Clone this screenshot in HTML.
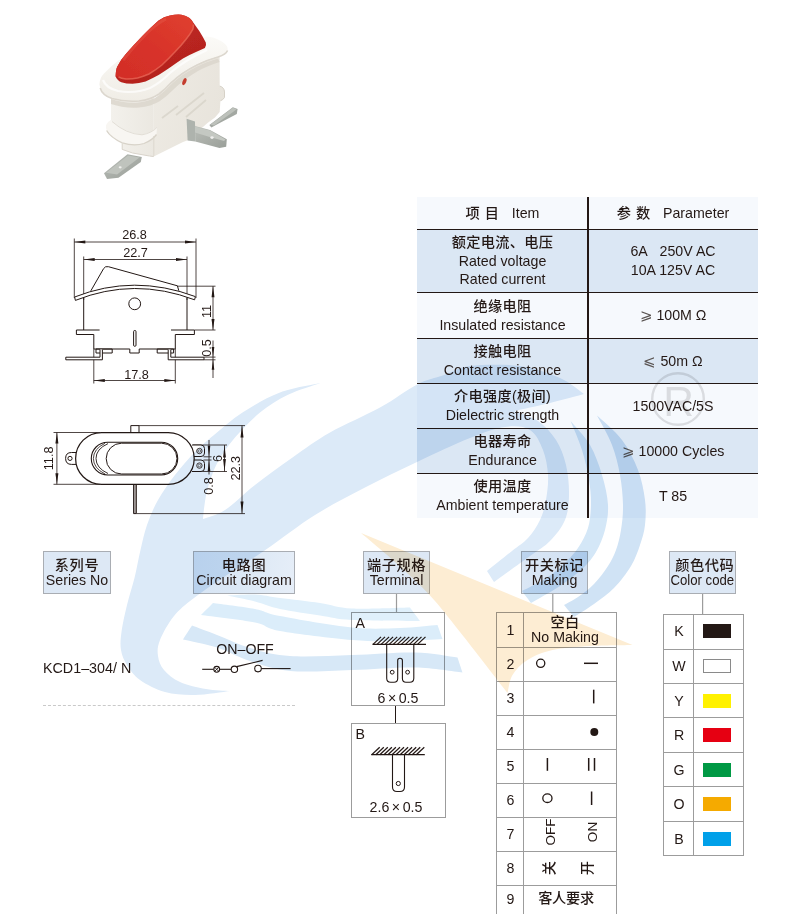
<!DOCTYPE html>
<html lang="zh">
<head>
<meta charset="utf-8">
<title>KCD1-304/N Rocker Switch</title>
<style>
html,body{margin:0;padding:0;background:#fff;}
body{width:800px;height:914px;position:relative;overflow:hidden;
  font-family:"Liberation Sans","Noto Sans CJK SC",sans-serif;color:#231815;font-size:14.2px;}
.abs{position:absolute;}
svg{position:absolute;left:0;top:0;}
svg text{font-family:"Liberation Sans","Noto Sans CJK SC",sans-serif;fill:#231815;}

/* spec table */
#spec{position:absolute;left:417px;top:197px;width:341px;height:321px;}
#spec .row{position:absolute;left:0;width:341px;border-top:1.3px solid #231815;box-sizing:border-box;}
#spec .row.first{border-top:none;}
#spec .c1,#spec .c2{position:absolute;top:0;height:100%;display:flex;flex-direction:column;justify-content:center;align-items:center;text-align:center;line-height:18.6px;white-space:nowrap;}
#spec .c1{left:0;width:171px;}
#spec .c2{left:171px;width:170px;}
#spec .dark{background:#dbe7f4;}
#spec .light{background:#f6f9fd;}
#spec .vline{position:absolute;left:170.2px;top:0;width:1.8px;height:321px;background:#231815;}
.cj{letter-spacing:0.3px;font-weight:500;}
.ge{color:#5a5452;font-size:15px;}

/* label boxes */
.lbl{position:absolute;top:551px;height:43px;box-sizing:border-box;border:1px solid #a9adb3;background:#dde8f5;
  text-align:center;line-height:15.2px;padding-top:5.5px;white-space:nowrap;}
.lbl .cj{letter-spacing:0.6px;}

/* small tables */
.grid{position:absolute;box-sizing:border-box;border:1px solid #9c9c9c;}
.grid .r{position:absolute;left:0;width:100%;box-sizing:border-box;border-top:1px solid #9c9c9c;}
.grid .r.first{border-top:none;}
.grid .n{position:absolute;left:0;top:0;height:100%;display:flex;align-items:center;justify-content:center;box-sizing:border-box;}
.grid .vl{position:absolute;top:0;width:1px;height:100%;background:#9c9c9c;}
.grid .v{position:absolute;top:0;height:100%;display:flex;flex-direction:column;align-items:center;justify-content:center;white-space:nowrap;line-height:15.4px;}
.sw{width:28px;height:14px;box-sizing:border-box;}
.rot{position:absolute;transform:translate(-50%,-50%) rotate(-90deg);white-space:nowrap;}
.tbox{position:absolute;box-sizing:border-box;border:1px solid #9c9c9c;}
</style>
</head>
<body>

<!-- GRAPHICS -->
<svg id="gfx" width="800" height="914" viewBox="0 0 800 914">
<!-- product photo (vector approximation) -->
<defs>
  <linearGradient id="gRedTop" x1="0" y1="1" x2="1" y2="0">
    <stop offset="0" stop-color="#d22d27"/><stop offset="0.5" stop-color="#d8332a"/><stop offset="1" stop-color="#e0402f"/>
  </linearGradient>
  <linearGradient id="gRedSide" x1="0" y1="0" x2="0.6" y2="1">
    <stop offset="0" stop-color="#c32a23"/><stop offset="1" stop-color="#b3221e"/>
  </linearGradient>
  <linearGradient id="gBezel" x1="0" y1="0" x2="0" y2="1">
    <stop offset="0" stop-color="#fbfaf7"/><stop offset="1" stop-color="#f0ede6"/>
  </linearGradient>
  <linearGradient id="gBodyL" x1="0" y1="0" x2="1" y2="0">
    <stop offset="0" stop-color="#f4f2ed"/><stop offset="1" stop-color="#ebe8e1"/>
  </linearGradient>
  <linearGradient id="gBodyR" x1="0" y1="0" x2="1" y2="0.4">
    <stop offset="0" stop-color="#eeebe4"/><stop offset="1" stop-color="#e8e4dc"/>
  </linearGradient>
  <linearGradient id="gMetal" x1="0" y1="0" x2="1" y2="1">
    <stop offset="0" stop-color="#b9bdb7"/><stop offset="1" stop-color="#9a9f99"/>
  </linearGradient>
  <filter id="soft" x="-5%" y="-5%" width="110%" height="110%"><feGaussianBlur stdDeviation="0.6"/></filter>
</defs>
<g filter="url(#soft)">
  <!-- back terminal -->
  <polygon points="209.4,125 232.8,107.2 237.6,109 236.8,114 222.5,121.6 211.3,127.4" fill="#a3a8a2"/>
  <polygon points="210.5,124.6 232.9,107.8 236.6,109.3 233,112 214,125.6" fill="#bdc1bb"/>
  <!-- body right face -->
  <path d="M153.8 100 L170.6 82 L183.8 71 L202.5 61.5 L219.6 55 L219.7 86 Q224.4 87.5 224.5 92 L224.5 97.5 Q223 100 220.4 100.8 L219.7 112 L215 117.5 L207.5 123 L187.8 140.2 L183 142 L153.8 156.6 Z" fill="url(#gBodyR)"/>
  <!-- body left face -->
  <path d="M111 92 L153.8 96 L153.8 156.6 L149.4 156 L132.5 153 L122.2 149.4 L122.2 142.8 L113.8 138 L107.2 132.5 L106.2 125.5 L111 120 Z" fill="url(#gBodyL)"/>
  <!-- shadow under bezel -->
  <path d="M111 99 Q124 103.5 139 102.5 Q151 101 159 95.5 Q165 91 171 84.5 Q182 74 197 66.5 Q207 61.5 218 58.5 L219.6 62 Q207 66 198 71 Q184 79 173 90 Q166 97 160 101 Q151 106.5 139 107.5 Q124 108.5 111 104 Z" fill="#d9d4ca" opacity="0.8"/>
  <!-- flange -->
  <path d="M111 120 Q104.8 123.5 106.2 128.5 Q108 135 122.2 142.8 Q134 146.5 144 143.5 Q152 140.5 156.5 134.5 L157 127 Q152 132.8 142 134.4 Q125 133.5 111 120 Z" fill="#f8f6f2"/>
  <path d="M106.6 130.5 Q110.5 137.5 122.2 142.8 Q134 146.5 144 143.5 Q152 140.5 156.5 134.5" fill="none" stroke="#d8d3c9" stroke-width="1.3"/>
  <path d="M112 121.5 Q126 134 142 134.8 Q152 133 157 127.3" fill="none" stroke="#e2ded6" stroke-width="1"/>
  <path d="M122.2 143.5 L122.2 149.4 L132.5 153 L149.4 156 L153.8 156.6" fill="none" stroke="#d9d4cb" stroke-width="1"/>
  <line x1="153.8" y1="136" x2="153.8" y2="156" stroke="#dcd7ce" stroke-width="1"/>
  <!-- texture on right face -->
  <path d="M162 118 L178 106 M176 115 L204 93 M186 117 L206 100" stroke="#d6d1c7" stroke-width="1.8" fill="none" opacity="0.75"/>
  <path d="M219.7 86 Q224.4 87.5 224.5 92 L224.5 97.5 Q223 100 220.4 100.8" fill="none" stroke="#d6d1c7" stroke-width="1"/>
  <ellipse cx="184.4" cy="81.6" rx="1.8" ry="3.7" transform="rotate(22 184.4 81.6)" fill="#c43c2e"/>
  <!-- bezel -->
  <path d="M99.4 84.4 Q99.6 78 104 73.5 Q111 66 119 60 L206.3 36.4 Q214 36.8 221 41 Q228.4 45.5 227.8 49.5 Q226.8 54 217.5 56.8 Q206 59.5 196 64.5 Q181 72.5 170.6 82.5 Q164 90 158 94 Q150 99.5 138 100.6 Q122 101.2 110.6 97.6 Q100.5 93.5 99.4 84.4 Z" fill="url(#gBezel)"/>
  <path d="M100.2 88 Q102 95 112 98.6 Q124 102 139 101 Q151 99.6 159 94 Q165 89.5 171 82.8 Q182 72.5 197 65 Q207 60 218 57 Q226 54.5 227.6 50.5" fill="none" stroke="#dcd7ce" stroke-width="1.6"/>
  <path d="M103 80 Q106 88 118 91 Q135 94 150 88 Q160 83 170 73 Q185 60 207 50" fill="none" stroke="#fff" stroke-width="2.2" opacity="0.7"/>
  <!-- rocker -->
  <path d="M115.6 76.5 Q115.8 70 117.2 66.8 Q120.5 60 126 53.8 Q134 44.5 142.4 35.9 Q150.5 27.5 158.6 20.4 Q164 16.6 170 15.6 Q176 14.2 181.4 14.7 Q186 15.4 189.5 18 Q192 20 193.6 22.9 Q196.5 27 199.3 31 Q203 37 205.8 42.4 Q206.8 45.5 204.9 48 Q200.5 50 196 52 Q189 55 183 58.6 Q176.5 63 170 67.6 Q164.5 71.5 158.6 74.9 Q152 78.5 145.6 81.4 Q139 83.4 132.6 83.8 Q126 83.8 121.3 82.2 Q117 80.3 115.6 76.5 Z" fill="url(#gRedSide)"/>
  <path d="M115.6 76.5 Q115.8 70 117.2 66.8 Q120.5 60 126 53.8 Q134 44.5 142.4 35.9 Q150.5 27.5 158.6 20.4 Q164 16.6 170 15.6 Q176 14.2 181.4 14.7 Q186 15.4 189.5 18 Q192.6 20.6 193.4 24.5 Q193.6 27 192.8 29.4 Q190 34.5 186.3 39 Q181 45.8 174.9 52 Q168.5 58.8 161.9 65 Q155.5 70.2 148.9 74 Q143 76.6 137.5 78 Q131.5 79.2 126 79 Q121 78.5 118 76.5 Z" fill="url(#gRedTop)"/>
  <path d="M118.5 76.8 Q121 78.5 126 79 Q131.5 79.2 137.5 78 Q143 76.6 148.9 74 Q155.5 70.2 161.9 65 Q168.5 58.8 174.9 52 Q181 45.8 186.3 39 Q190 34.5 192.8 29.4 Q193.6 27 193.4 24.5" fill="none" stroke="#ea6a58" stroke-width="1.5" opacity="0.75"/>
  <path d="M123 60 Q135 45 147 33 Q157 23.5 166 19" fill="none" stroke="#e9604f" stroke-width="3" opacity="0.35"/>
  <!-- front-left terminal -->
  <polygon points="104,173.2 127.5,154.2 141.8,157 140.8,162 118.5,177.8 107,178.9" fill="url(#gMetal)"/>
  <polygon points="106,172.8 128,155.4 139.5,157.6 117,174.5" fill="#bfc3bd"/>
  <ellipse cx="120.2" cy="167.3" rx="1.5" ry="1.1" fill="#f0f0ee"/>
  <!-- middle terminal -->
  <polygon points="186.6,118.8 195,121.4 195.2,141.5 187.6,140.4" fill="#aeb3ad"/>
  <polygon points="195,126 210,130 226.8,139.2 226.2,146.8 219.5,147.9 195.2,141.5" fill="url(#gMetal)"/>
  <polygon points="195,126.6 210,130.6 225.5,139.5 224,141 208,136.5 195,132.6" fill="#c4c8c2"/>
  <ellipse cx="212" cy="137.6" rx="1.7" ry="1.4" fill="#f0f0ee"/>
</g>
<!-- drawing 1 : side view -->
<g fill="none" stroke="#231815" stroke-width="1" stroke-linejoin="round">
  <!-- dims -->
  <g stroke-width="0.8">
  <line x1="74.3" y1="238.5" x2="74.3" y2="298"/><line x1="196" y1="238.5" x2="196" y2="298"/>
  <line x1="74.3" y1="242" x2="196" y2="242"/>
  <line x1="83.7" y1="256.5" x2="83.7" y2="300"/><line x1="187" y1="256.5" x2="187" y2="300"/>
  <line x1="83.7" y1="259.5" x2="187" y2="259.5"/>
  <line x1="155" y1="286.2" x2="215.5" y2="286.2"/>
  <line x1="194.5" y1="330" x2="215.5" y2="330"/>
  <line x1="213" y1="286.2" x2="213" y2="330"/>
  <line x1="204" y1="357.1" x2="215.5" y2="357.1"/><line x1="204" y1="359.8" x2="215.5" y2="359.8"/>
  <line x1="213" y1="340.5" x2="213" y2="378"/>
  <line x1="93.8" y1="349" x2="93.8" y2="383.5"/><line x1="175.3" y1="349" x2="175.3" y2="383.5"/>
  <line x1="93.8" y1="380.5" x2="175.3" y2="380.5"/>
  </g>
  
  
  
  
  
  <polygon points="74.3,242.0 85.3,240.5 85.3,243.5" fill="#231815" stroke="none"/><polygon points="196.0,242.0 185.0,240.5 185.0,243.5" fill="#231815" stroke="none"/><polygon points="83.7,259.5 94.7,258.0 94.7,261.0" fill="#231815" stroke="none"/><polygon points="187.0,259.5 176.0,258.0 176.0,261.0" fill="#231815" stroke="none"/><polygon points="213.0,286.2 211.5,297.2 214.5,297.2" fill="#231815" stroke="none"/><polygon points="213.0,330.0 211.5,319.0 214.5,319.0" fill="#231815" stroke="none"/><polygon points="213.0,357.1 211.7,347.1 214.3,347.1" fill="#231815" stroke="none"/><polygon points="213.0,359.8 211.7,369.8 214.3,369.8" fill="#231815" stroke="none"/><polygon points="93.8,380.5 104.8,379.0 104.8,382.0" fill="#231815" stroke="none"/><polygon points="175.3,380.5 164.3,379.0 164.3,382.0" fill="#231815" stroke="none"/>
  <!-- rocker -->
  <path d="M90.8 290.9 L103.6 268.6 Q105.2 265.9 108.4 266.7 L177.4 285.8 L178.8 290.7" fill="#fff"/>
  <!-- curved plate -->
  <path d="M74.6 297 Q134 273.6 195.4 296.6 L194.6 299.8 Q134 276.9 75.4 300.4 Z" fill="#fff"/>
  <!-- body -->
  <path d="M83.7 298 V330 M187 298 V330"/>
  <path d="M99.6 330 H76.4 V334.5 H93.8 V349 H129.8 V353 H139.2 V349 H175.3 V334.5 H194.4 V330 H171"/>
  <circle cx="134.7" cy="303.8" r="5.9"/>
  <rect x="133.6" y="330.5" width="2.4" height="15.8" rx="1.1"/>
  <rect x="96" y="349" width="16.2" height="4"/>
  <rect x="157.2" y="349" width="16.4" height="4"/>
  <!-- terminals -->
  <path d="M100 349.6 V357.2 H65.8 V359.8 H102.4 V349.6" fill="#fff"/>
  <path d="M170.8 349.6 V357.2 H204 V359.8 H168.2 V349.6" fill="#fff"/>
</g>
<g font-size="12.7px" text-anchor="middle">
  <text x="134.5" y="239.3">26.8</text>
  <text x="135.5" y="257.3">22.7</text>
  <text x="136.5" y="379.3">17.8</text>
  <text transform="translate(210.6 311.5) rotate(-90)">11</text>
  <text transform="translate(210.6 348) rotate(-90)">0.5</text>
</g>
<!-- drawing 2 : top view -->
<g fill="none" stroke="#231815" stroke-width="1" stroke-linejoin="round">
  <g stroke-width="0.8">
  <line x1="53.5" y1="432.5" x2="100" y2="432.5"/><line x1="53.5" y1="484.3" x2="100" y2="484.3"/>
  <line x1="56.9" y1="432.5" x2="56.9" y2="484.3"/>
  <line x1="139" y1="425.6" x2="245" y2="425.6"/><line x1="136.3" y1="513.6" x2="245" y2="513.6"/>
  <line x1="242" y1="425.6" x2="242" y2="513.6"/>
  <line x1="193" y1="445" x2="227" y2="445"/><line x1="193" y1="471.5" x2="227" y2="471.5"/>
  <line x1="224.5" y1="445" x2="224.5" y2="471.5"/>
  <line x1="203.5" y1="456.8" x2="211.5" y2="456.8"/><line x1="203.5" y1="460" x2="211.5" y2="460"/>
  <line x1="209" y1="440" x2="209" y2="474.5"/>
  </g>
  <polygon points="56.9,432.5 55.4,443.5 58.4,443.5" fill="#231815" stroke="none"/><polygon points="56.9,484.3 55.4,473.3 58.4,473.3" fill="#231815" stroke="none"/>
  <polygon points="242.0,425.6 240.5,437.6 243.5,437.6" fill="#231815" stroke="none"/><polygon points="242.0,513.6 240.5,501.6 243.5,501.6" fill="#231815" stroke="none"/>
  <polygon points="224.5,445.0 223.1,457.5 225.9,457.5" fill="#231815" stroke="none"/><polygon points="224.5,471.5 223.1,459.0 225.9,459.0" fill="#231815" stroke="none"/>
  <polygon points="209.0,456.8 207.7,445.8 210.3,445.8" fill="#231815" stroke="none"/><polygon points="209.0,460.0 207.7,471.0 210.3,471.0" fill="#231815" stroke="none"/>
  <!-- tabs -->
  <path d="M77 452.5 H71.5 Q65.6 452.5 65.6 458.4 Q65.6 464.4 71.5 464.4 H77" fill="#fff"/>
  <circle cx="70" cy="458.4" r="2.1"/>
  <path d="M192 445 H201 Q204.5 445 204.5 448.5 V453 Q204.5 456.5 201 456.5 H193" fill="#fff"/>
  <path d="M193 460 H201 Q204.5 460 204.5 463.5 V468 Q204.5 471.5 201 471.5 H192" fill="#fff"/>
  <circle cx="199.4" cy="451" r="2.7" stroke-width="0.85"/><circle cx="199.4" cy="451" r="1.25" stroke-width="0.55"/>
  <circle cx="199.4" cy="465.6" r="2.7" stroke-width="0.85"/><circle cx="199.4" cy="465.6" r="1.25" stroke-width="0.55"/>
  <!-- pins -->
  <rect x="130.8" y="425.6" width="8.2" height="7" fill="#fff"/>
  <rect x="133.6" y="484.3" width="2.7" height="29.3" fill="#a9a3a0"/>
  <!-- outer stadium -->
  <rect x="75.6" y="432.5" width="118.6" height="51.8" rx="25.9" fill="#fff" stroke-width="1.25"/>
  <rect x="91.3" y="442.2" width="86.4" height="32.8" rx="16.4" stroke-width="1.1"/>
  <path d="M105 443.3 Q93.4 449 93.4 458.5 Q93.4 468 105 474" stroke-width="0.8"/>
  <path d="M108 443.6 Q96 449 96 458.5 Q96 468 108 473.5" stroke-width="0.9"/>
  <rect x="106.2" y="443.2" width="70.8" height="30.8" rx="15.4" fill="#fff"/>
</g>
<g font-size="12.7px" text-anchor="middle">
  <text transform="translate(53.4 458.4) rotate(-90)">11.8</text>
  <text transform="translate(240.1 468.2) rotate(-90)">22.3</text>
  <text transform="translate(222.1 458.4) rotate(-90)">6</text>
  <text transform="translate(212.6 486) rotate(-90)">0.8</text>
</g>
<!-- circuit + making symbols + connectors -->
<g fill="none" stroke="#231815" stroke-width="1.1" stroke-linecap="butt">
  <line x1="202.2" y1="669.3" x2="213.7" y2="669.3"/>
  <circle cx="216.7" cy="669.3" r="2.9" fill="#fff"/>
  <path d="M214.7 667.3 L218.7 671.3 M218.7 667.3 L214.7 671.3" stroke-width="0.9"/>
  <line x1="219.6" y1="669.3" x2="231.2" y2="669.3"/>
  <circle cx="234.4" cy="669.3" r="3.2" fill="#fff"/>
  <line x1="236.6" y1="666.6" x2="262.6" y2="660.4"/>
  <circle cx="258" cy="668.6" r="3.3" fill="#fff"/>
  <line x1="261.4" y1="668.6" x2="290.6" y2="668.6"/>
</g>
<g stroke="#9c9c9c" stroke-width="1.2" fill="none">
  <line x1="396.5" y1="594" x2="396.5" y2="612"/>
  <line x1="552.8" y1="594" x2="552.8" y2="612"/>
  <line x1="702.6" y1="594" x2="702.6" y2="614"/>
</g>
<line x1="395.5" y1="706" x2="395.5" y2="723" stroke="#231815" stroke-width="1"/>
<g fill="none" stroke="#231815" stroke-width="1.5">
  <circle cx="540.7" cy="663.3" r="4.1" stroke-width="1.3"/>
  <line x1="584" y1="663.3" x2="598" y2="663.3"/>
  <line x1="593.7" y1="689.7" x2="593.7" y2="703.4"/>
  <circle cx="594.3" cy="731.9" r="4" fill="#231815" stroke="none"/>
  <line x1="547.4" y1="758" x2="547.4" y2="770.8"/>
  <line x1="588.7" y1="758" x2="588.7" y2="770.8"/>
  <line x1="594.5" y1="758" x2="594.5" y2="770.8"/>
  <ellipse cx="547.4" cy="798.2" rx="4.6" ry="4.3" stroke-width="1.3"/>
  <line x1="591.6" y1="791.5" x2="591.6" y2="805"/>
</g>
<!-- terminal drawings -->
<g fill="none" stroke="#231815" stroke-width="1.25">
  <line x1="372.5" y1="644.4" x2="426" y2="644.4" stroke-width="1.3"/>
  <line x1="373.0" y1="644.4" x2="381.0" y2="636.9"/>
  <line x1="377.0" y1="644.4" x2="385.0" y2="636.9"/>
  <line x1="381.1" y1="644.4" x2="389.1" y2="636.9"/>
  <line x1="385.1" y1="644.4" x2="393.1" y2="636.9"/>
  <line x1="389.2" y1="644.4" x2="397.2" y2="636.9"/>
  <line x1="393.2" y1="644.4" x2="401.2" y2="636.9"/>
  <line x1="397.3" y1="644.4" x2="405.3" y2="636.9"/>
  <line x1="401.3" y1="644.4" x2="409.3" y2="636.9"/>
  <line x1="405.4" y1="644.4" x2="413.4" y2="636.9"/>
  <line x1="409.4" y1="644.4" x2="417.4" y2="636.9"/>
  <line x1="413.5" y1="644.4" x2="421.5" y2="636.9"/>
  <line x1="417.5" y1="644.4" x2="425.5" y2="636.9"/>
  <path d="M386.7 644.4 V678.2 Q386.7 682.2 390.7 682.2 H394 Q397.7 682.2 397.7 678.5 V660.5 Q397.7 658.2 400 658.2 Q402.4 658.2 402.4 660.5 V678.5 Q402.4 682.2 406 682.2 H409.8 Q413.8 682.2 413.8 678.2 V644.4" stroke-width="1.1"/>
  <circle cx="392.2" cy="672.2" r="1.9" stroke-width="1"/>
  <circle cx="407.6" cy="672.2" r="1.9" stroke-width="1"/>
  <line x1="371.2" y1="754.7" x2="424.8" y2="754.7" stroke-width="1.3"/>
  <line x1="371.7" y1="754.7" x2="379.7" y2="747.2"/>
  <line x1="375.8" y1="754.7" x2="383.8" y2="747.2"/>
  <line x1="379.8" y1="754.7" x2="387.8" y2="747.2"/>
  <line x1="383.9" y1="754.7" x2="391.9" y2="747.2"/>
  <line x1="387.9" y1="754.7" x2="395.9" y2="747.2"/>
  <line x1="392.0" y1="754.7" x2="400.0" y2="747.2"/>
  <line x1="396.0" y1="754.7" x2="404.0" y2="747.2"/>
  <line x1="400.1" y1="754.7" x2="408.1" y2="747.2"/>
  <line x1="404.1" y1="754.7" x2="412.1" y2="747.2"/>
  <line x1="408.2" y1="754.7" x2="416.2" y2="747.2"/>
  <line x1="412.2" y1="754.7" x2="420.2" y2="747.2"/>
  <line x1="416.3" y1="754.7" x2="424.3" y2="747.2"/>
  <path d="M392.5 754.7 V787 Q392.5 791.5 397 791.5 H400 Q404.5 791.5 404.5 787 V754.7" stroke-width="1.1"/>
  <circle cx="398.3" cy="783.5" r="2.1" stroke-width="1"/>
</g>
</svg>

<!-- SPEC TABLE -->
<div id="spec">
  <div class="row first light" style="top:0;height:32px;">
    <div class="c1"><span><span class="cj" style="letter-spacing:5px">项目</span>&nbsp;&nbsp;Item</span></div>
    <div class="c2"><span><span class="cj" style="letter-spacing:5px">参数</span>&nbsp;&nbsp;Parameter</span></div>
  </div>
  <div class="row dark" style="top:32px;height:63px;">
    <div class="c1"><span class="cj">额定电流、电压</span><span>Rated voltage</span><span>Rated current</span></div>
    <div class="c2"><span>6A&nbsp;&nbsp; 250V AC</span><span>10A 125V AC</span></div>
  </div>
  <div class="row light" style="top:95px;height:46px;">
    <div class="c1"><span class="cj">绝缘电阻</span><span>Insulated resistance</span></div>
    <div class="c2"><span><span class="ge">⩾</span> 100M Ω</span></div>
  </div>
  <div class="row dark" style="top:141px;height:45px;">
    <div class="c1"><span class="cj">接触电阻</span><span>Contact resistance</span></div>
    <div class="c2"><span><span class="ge">⩽</span> 50m Ω</span></div>
  </div>
  <div class="row light" style="top:186px;height:45px;">
    <div class="c1"><span class="cj">介电强度(极间)</span><span>Dielectric strength</span></div>
    <div class="c2"><span>1500VAC/5S</span></div>
  </div>
  <div class="row dark" style="top:231px;height:45px;">
    <div class="c1"><span class="cj">电器寿命</span><span>Endurance</span></div>
    <div class="c2"><span><span class="ge">⩾</span> 10000 Cycles</span></div>
  </div>
  <div class="row light" style="top:276px;height:45px;">
    <div class="c1"><span class="cj">使用温度</span><span>Ambient temperature</span></div>
    <div class="c2"><span>T 85</span></div>
  </div>
  <div class="vline"></div>
</div>

<!-- LABEL BOXES -->
<div class="lbl" style="left:43px;width:68px;"><span class="cj">系列号</span><br>Series No</div>
<div class="lbl" style="left:193px;width:102px;background:linear-gradient(100deg,#d6e4f4 0%,#dce8f5 50%,#e6eef8 100%);"><span class="cj">电路图</span><br>Circuit diagram</div>
<div class="lbl" style="left:363px;width:67px;"><span class="cj">端子规格</span><br>Terminal</div>
<div class="lbl" style="left:521px;width:67px;background:linear-gradient(90deg,#dbe7f5 0%,#cfdff2 100%);"><span class="cj">开关标记</span><br>Making</div>
<div class="lbl" style="left:669px;width:67px;"><span class="cj">&nbsp;颜色代码</span><br><span style="display:inline-block;transform:scaleX(0.93);transform-origin:50% 50%;margin:0 -4px">Color code</span></div>

<!-- SERIES -->
<div class="abs" style="left:43px;top:660px;line-height:17px;font-size:14.3px;white-space:nowrap;">KCD1–304/ N</div>
<div class="abs" style="left:43px;top:705px;width:252px;height:0;border-top:1px dashed #c9c9c9;"></div>
<div class="abs" style="left:195px;top:641px;width:100px;text-align:center;line-height:17px;white-space:nowrap;">ON–OFF</div>

<!-- TERMINAL BOXES -->
<div class="tbox" style="left:351px;top:612px;width:94px;height:94px;"></div>
<div class="tbox" style="left:351px;top:723px;width:95px;height:95px;"></div>
<div class="abs" style="left:355.5px;top:615px;line-height:17px;">A</div>
<div class="abs" style="left:355.5px;top:726px;line-height:17px;">B</div>
<div class="abs" style="left:351px;top:690px;width:94px;text-align:center;line-height:17px;white-space:nowrap;">6<span style="padding:0 2.5px">×</span>0.5</div>
<div class="abs" style="left:349px;top:799px;width:94px;text-align:center;line-height:17px;white-space:nowrap;">2.6<span style="padding:0 2.5px">×</span>0.5</div>
<!-- MAKING TABLE -->
<div class="grid" style="left:496px;top:612px;width:121px;height:320px;border-bottom:none;">
<div class="r first" style="top:-0.0px;height:34.7px;"><div class="n" style="width:27px;">1</div><div class="v" style="left:22px;width:92px;"><span class="cj">空白</span><span>No Making</span></div></div>
<div class="r" style="top:33.7px;height:34.4px;"><div class="n" style="width:27px;">2</div><div class="v" style="left:27px;width:92px;"></div></div>
<div class="r" style="top:68.1px;height:33.6px;"><div class="n" style="width:27px;">3</div><div class="v" style="left:27px;width:92px;"></div></div>
<div class="r" style="top:101.7px;height:34px;"><div class="n" style="width:27px;">4</div><div class="v" style="left:27px;width:92px;"></div></div>
<div class="r" style="top:135.7px;height:33.8px;"><div class="n" style="width:27px;">5</div><div class="v" style="left:27px;width:92px;"></div></div>
<div class="r" style="top:169.5px;height:34.2px;"><div class="n" style="width:27px;">6</div><div class="v" style="left:27px;width:92px;"></div></div>
<div class="r" style="top:203.7px;height:34px;"><div class="n" style="width:27px;">7</div><div class="v" style="left:27px;width:92px;"></div></div>
<div class="r" style="top:237.7px;height:34.2px;"><div class="n" style="width:27px;">8</div><div class="v" style="left:27px;width:92px;"></div></div>
<div class="r" style="top:271.9px;height:34.2px;"><div class="n" style="width:27px;padding-bottom:7.4px;">9</div><div class="v" style="left:23px;width:92px;padding-bottom:7.4px;box-sizing:border-box;"><span class="cj" style="font-weight:500;letter-spacing:-0.3px">客人要求</span></div></div>
<div class="vl" style="left:26px;"></div>
<span class="rot" style="left:52.6px;top:219.3px;font-size:13.6px;">OFF</span>
<span class="rot" style="left:94.6px;top:219.3px;font-size:13.6px;">ON</span>
<span class="rot cj" style="left:51.2px;top:255px;font-size:14.2px;">关</span>
<span class="rot cj" style="left:89px;top:255px;font-size:14.2px;">开</span>
</div>
<!-- COLOR TABLE -->
<div class="grid" style="left:663px;top:614px;width:81px;height:242px;">
<div class="r first" style="top:-1.0px;height:34.5px;"><div class="n" style="width:30px;">K</div><div class="v" style="left:30px;width:46px;"><div class="sw" style="background:#231815;"></div></div></div>
<div class="r" style="top:33.5px;height:34.5px;"><div class="n" style="width:30px;">W</div><div class="v" style="left:30px;width:46px;"><div class="sw" style="background:#fff;border:1px solid #8a8a8a;"></div></div></div>
<div class="r" style="top:67.9px;height:34.5px;"><div class="n" style="width:30px;">Y</div><div class="v" style="left:30px;width:46px;"><div class="sw" style="background:#fff100;"></div></div></div>
<div class="r" style="top:102.4px;height:34.5px;"><div class="n" style="width:30px;">R</div><div class="v" style="left:30px;width:46px;"><div class="sw" style="background:#e60012;"></div></div></div>
<div class="r" style="top:136.8px;height:34.5px;"><div class="n" style="width:30px;">G</div><div class="v" style="left:30px;width:46px;"><div class="sw" style="background:#009944;"></div></div></div>
<div class="r" style="top:171.3px;height:34.5px;"><div class="n" style="width:30px;">O</div><div class="v" style="left:30px;width:46px;"><div class="sw" style="background:#f5aa00;"></div></div></div>
<div class="r" style="top:205.8px;height:34.5px;"><div class="n" style="width:30px;">B</div><div class="v" style="left:30px;width:46px;"><div class="sw" style="background:#00a0e9;"></div></div></div>
<div class="vl" style="left:29px;"></div>
</div>

<!-- WATERMARK (multiply over everything) -->
<svg id="wm" width="800" height="914" viewBox="0 0 800 914" style="mix-blend-mode:multiply;pointer-events:none;">
  <path fill="#dceaf8" d="M320.3 383.0 C313.6 384.6 293.0 387.6 280.0 392.5 C267.0 397.4 253.5 405.4 242.5 412.5 C231.5 419.6 221.9 428.4 214.0 435.0 C206.1 441.6 201.5 445.3 195.0 452.0 C188.5 458.7 181.2 467.0 175.0 475.0 C168.8 483.0 162.7 491.7 158.0 500.0 C153.3 508.3 149.9 516.7 147.0 525.0 C144.1 533.3 142.6 541.2 140.5 550.0 C138.4 558.8 136.8 568.8 134.5 578.0 C132.2 587.2 129.2 596.0 127.0 605.0 C124.8 614.0 122.5 624.5 121.5 632.0 C120.5 639.5 120.1 644.5 121.0 650.0 C121.9 655.5 123.8 660.0 127.0 665.0 C130.2 670.0 133.7 675.5 140.0 680.0 C146.3 684.5 155.8 689.5 165.0 692.0 C174.2 694.5 184.2 695.2 195.0 695.0 C205.8 694.8 224.2 691.7 230.0 691.0 C226.0 690.7 214.3 690.5 206.0 689.0 C197.7 687.5 187.0 685.2 180.0 682.0 C173.0 678.8 167.7 674.3 164.0 670.0 C160.3 665.7 158.7 661.0 158.0 656.0 C157.3 651.0 157.3 646.7 160.0 640.0 C162.7 633.3 168.3 623.0 174.0 616.0 C179.7 609.0 184.7 605.2 194.0 598.0 C203.3 590.8 218.0 581.1 230.0 573.0 C242.0 564.9 251.8 559.2 266.0 549.5 C280.2 539.8 298.5 525.3 315.0 515.0 C331.5 504.7 348.0 496.3 365.0 487.5 C382.0 478.7 399.5 470.2 417.0 462.0 C434.5 453.8 455.3 443.8 470.0 438.0 C484.7 432.2 495.0 428.3 505.0 427.0 C515.0 425.7 523.7 426.2 530.0 430.0 C536.3 433.8 540.0 442.5 543.0 450.0 C546.0 457.5 547.5 466.7 548.0 475.0 C548.5 483.3 547.3 492.5 546.0 500.0 C544.7 507.5 543.0 513.7 540.0 520.0 C537.0 526.3 532.7 532.8 528.0 538.0 C523.3 543.2 518.8 545.5 512.0 551.0 C505.2 556.5 491.2 567.7 487.0 571.0 C488.2 572.8 492.8 580.2 494.0 582.0 C500.0 577.7 520.7 562.8 530.0 556.0 C539.3 549.2 544.2 547.0 550.0 541.0 C555.8 535.0 561.8 527.7 565.0 520.0 C568.2 512.3 568.8 504.2 569.0 495.0 C569.2 485.8 568.2 474.2 566.0 465.0 C563.8 455.8 560.7 447.3 556.0 440.0 C551.3 432.7 545.0 425.8 538.0 421.0 C531.0 416.2 518.0 412.7 514.0 411.0 C520.0 409.7 538.3 405.8 550.0 403.0 C561.7 400.2 578.3 395.5 584.0 394.0 C580.0 391.3 570.7 382.7 560.0 378.0 C549.3 373.3 535.0 368.0 520.0 366.0 C505.0 364.0 482.8 364.4 470.0 366.0 C457.2 367.6 452.3 372.2 443.5 375.3 C434.7 378.4 427.8 379.0 417.2 384.4 C406.6 389.8 394.5 399.5 380.0 407.5 C365.5 415.5 344.6 424.2 330.0 432.5 C315.4 440.8 305.0 448.8 292.5 457.5 C280.0 466.2 266.2 476.2 255.0 485.0 C243.8 493.8 233.7 504.3 225.0 510.0 C216.3 515.7 206.7 517.5 203.0 519.0 C203.2 516.7 203.7 510.2 204.5 505.0 C205.3 499.8 205.8 494.6 208.0 487.5 C210.2 480.4 213.0 470.8 217.5 462.5 C222.0 454.2 227.9 445.8 235.0 437.5 C242.1 429.2 251.2 419.6 260.0 412.5 C268.8 405.4 277.4 399.9 287.5 395.0 C297.6 390.1 314.8 385.0 320.3 383.0 Z"/>
  <path fill="#e0f0fb" d="M227.0 595.5 C231.7 595.3 246.2 594.1 255.0 594.5 C263.8 594.9 269.2 596.6 280.0 598.0 C290.8 599.4 308.0 601.2 320.0 603.0 C332.0 604.8 337.0 607.8 352.0 608.5 C367.0 609.2 400.3 607.7 410.0 607.5 C411.7 609.8 418.3 618.8 420.0 621.0 C408.7 620.8 368.7 620.9 352.0 620.0 C335.3 619.1 332.0 617.3 320.0 615.5 C308.0 613.7 290.8 611.3 280.0 609.0 C269.2 606.7 263.8 603.8 255.0 601.5 C246.2 599.2 231.7 596.5 227.0 595.5 Z"/>
  <path fill="#dbedfa" d="M213.0 603.0  C220.0 604.0 243.8 606.8 255.0 609.0 C266.2 611.2 263.8 612.9 280.0 616.0 C296.2 619.1 332.0 625.5 352.0 627.5 C372.0 629.5 385.8 628.4 400.0 628.0 C414.2 627.6 431.2 625.5 437.5 625.0 C438.3 627.3 441.7 636.7 442.5 639.0 C435.4 639.3 415.1 640.8 400.0 641.0 C384.9 641.2 372.0 641.7 352.0 640.0 C332.0 638.3 296.2 633.9 280.0 631.0 C263.8 628.1 268.2 625.2 255.0 622.5 C241.8 619.8 210.0 616.2 201.0 615.0 C203.0 613.0 211.0 605.0 213.0 603.0 Z"/>
  <path fill="#d7e8f7" d="M192.0 625.6 C196.2 627.2 207.3 631.3 217.0 635.0 C226.7 638.7 237.8 644.5 250.0 648.0 C262.2 651.5 273.0 654.8 290.0 656.0 C307.0 657.2 331.2 655.6 352.0 655.0 C372.8 654.4 397.4 652.1 415.0 652.5 C432.6 652.9 450.4 656.7 457.5 657.5 C458.3 660.0 461.7 670.0 462.5 672.5 C454.6 671.7 433.4 667.9 415.0 667.5 C396.6 667.1 372.8 669.4 352.0 670.0 C331.2 670.6 307.0 672.5 290.0 671.0 C273.0 669.5 262.2 664.9 250.0 661.0 C237.8 657.1 228.2 651.1 217.0 647.5 C205.8 643.9 188.7 640.8 183.0 639.4 C184.5 637.1 190.5 627.9 192.0 625.6 Z"/>
  <path fill="#d4e7f7" d="M570.6 421.0 C573.8 425.0 584.8 436.0 590.0 445.0 C595.2 454.0 599.0 465.0 602.0 475.0 C605.0 485.0 607.5 495.8 608.0 505.0 C608.5 514.2 607.0 522.2 605.0 530.0 C603.0 537.8 599.7 545.7 596.0 552.0 C592.3 558.3 589.0 562.3 583.0 568.0 C577.0 573.7 568.7 580.2 560.0 586.0 C551.3 591.8 535.8 600.2 531.0 603.0 C529.5 601.0 523.5 593.0 522.0 591.0 C525.8 589.0 538.2 583.3 545.0 579.0 C551.8 574.7 557.5 570.2 563.0 565.0 C568.5 559.8 573.8 554.2 578.0 548.0 C582.2 541.8 585.8 535.2 588.0 528.0 C590.2 520.8 590.8 513.0 591.0 505.0 C591.2 497.0 590.5 489.2 589.0 480.0 C587.5 470.8 585.1 459.8 582.0 450.0 C578.9 440.2 572.5 425.8 570.6 421.0 Z"/>
  <path fill="#d0e3f5" d="M597.0 415.6 C601.2 419.7 615.2 430.9 622.0 440.0 C628.8 449.1 634.2 460.0 638.0 470.0 C641.8 480.0 643.8 490.8 645.0 500.0 C646.2 509.2 645.8 517.5 645.0 525.0 C644.2 532.5 642.3 538.2 640.0 545.0 C637.7 551.8 635.3 558.8 631.0 566.0 C626.7 573.2 620.2 581.7 614.0 588.0 C607.8 594.3 600.7 599.2 594.0 604.0 C587.3 608.8 577.3 614.8 574.0 617.0 C572.3 615.0 565.7 607.0 564.0 605.0 C566.3 603.7 573.0 600.5 578.0 597.0 C583.0 593.5 589.0 589.2 594.0 584.0 C599.0 578.8 604.3 571.7 608.0 566.0 C611.7 560.3 613.8 556.0 616.0 550.0 C618.2 544.0 619.8 537.5 621.0 530.0 C622.2 522.5 623.2 514.2 623.0 505.0 C622.8 495.8 621.8 485.0 620.0 475.0 C618.2 465.0 615.8 454.9 612.0 445.0 C608.2 435.1 599.5 420.5 597.0 415.6 Z"/>
  <path fill="#fdedd3" d="M361 533 L632.5 645 C625.4 645.2 603.3 645.2 590.0 646.0 C576.7 646.8 562.9 647.7 552.5 650.0 C542.1 652.3 534.2 655.8 527.5 660.0 C520.8 664.2 515.8 669.5 512.5 675.0 C509.2 680.5 508.3 690.0 507.5 693.0 C499.6 682.8 472.9 648.2 460.0 632.0 C447.1 615.8 440.8 607.2 430.0 595.5 C419.2 583.8 406.5 572.4 395.0 562.0 C383.5 551.6 366.7 537.8 361.0 533.0 Z"/>
  <circle cx="678" cy="399" r="25.8" fill="none" stroke="#e2e2e2" stroke-width="2.4"/>
  <text x="678.5" y="415.6" font-size="42.5px" text-anchor="middle" style="fill:#e2e2e2;font-family:'Liberation Sans',sans-serif">R</text>
</svg>
</body>
</html>
